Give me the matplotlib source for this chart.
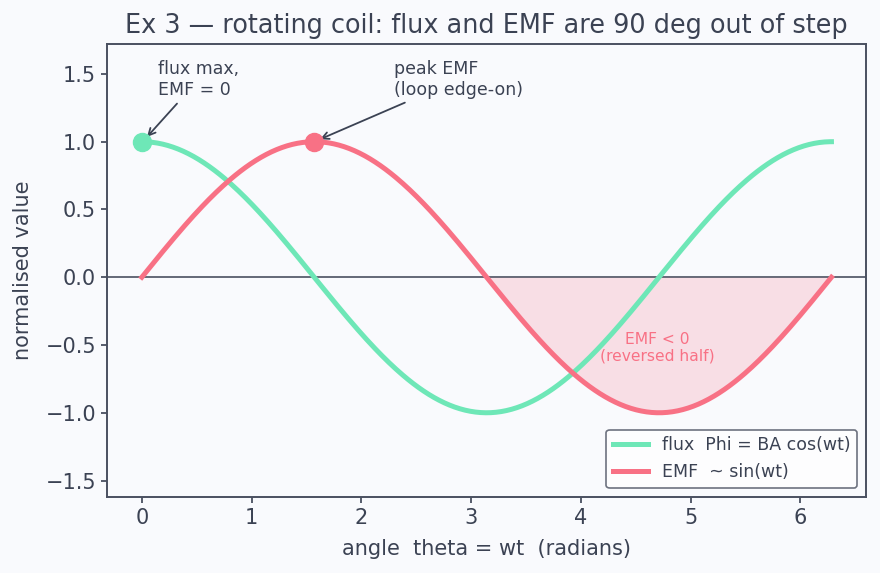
import numpy as np
import matplotlib.pyplot as plt

# angle samples over one full turn
theta = np.linspace(0, 2 * np.pi, 400)
flux = np.cos(theta)
emf = np.sin(theta)

flux_label = "flux  Phi = BA cos(wt)"
emf_label = "EMF  ~ sin(wt)"
title = "Ex 3 \u2014 rotating coil: flux and EMF are 90 deg out of step"

GREEN = "#6ee7b7"
RED = "#f87185"
INK = "#3b4253"
BG = "#f9fafd"

plt.rcParams["font.family"] = "DejaVu Sans"
fig, ax = plt.subplots(figsize=(8.8, 5.73), dpi=100)
fig.patch.set_facecolor(BG)
ax.set_facecolor(BG)

ax.axhline(0, color="#4a5060", lw=1.2, zorder=1)
neg = theta >= np.pi
ax.fill_between(theta[neg], emf[neg], 0, color=RED, alpha=0.2, lw=0, zorder=1)
ax.plot(theta, flux, color=GREEN, lw=3.6, label=flux_label, zorder=3)
ax.plot(theta, emf, color=RED, lw=3.6, label=emf_label, zorder=3)
ax.plot([0], [1], "o", color=GREEN, ms=13, zorder=4)
ax.plot([np.pi / 2], [1], "o", color=RED, ms=13, zorder=4)

ax.annotate("flux max,\nEMF = 0", xy=(0.03, 1.02), xytext=(0.15, 1.46),
            fontsize=12.5, color=INK, va="center",
            arrowprops=dict(arrowstyle="->", color=INK, lw=1.3))
ax.annotate("peak EMF\n(loop edge-on)", xy=(np.pi / 2 + 0.03, 1.01), xytext=(2.3, 1.46),
            fontsize=12.5, color=INK, va="center",
            arrowprops=dict(arrowstyle="->", color=INK, lw=1.3))
ax.text(4.7, -0.52, "EMF < 0\n(reversed half)", color=RED, fontsize=11.2,
        ha="center", va="center")

ax.set_ylim(-1.62, 1.72)
ax.set_title(title, fontsize=18.4, color=INK, pad=8)
ax.set_xlabel("angle  theta = wt  (radians)", fontsize=15, color=INK, labelpad=8)
ax.set_ylabel("normalised value", fontsize=15, color=INK, labelpad=9)
ax.tick_params(colors=INK, labelsize=15, length=4.5, width=1.2)
for s in ax.spines.values():
    s.set_color("#4a5060")
    s.set_linewidth(1.4)

leg = ax.legend(loc="lower right", fontsize=12.5, frameon=True, fancybox=True)
leg.get_frame().set_edgecolor("#4a5060")
leg.get_frame().set_linewidth(1.2)
leg.get_frame().set_facecolor("white")
for t in leg.get_texts():
    t.set_color(INK)

fig.subplots_adjust(left=0.122, right=0.984, top=0.923, bottom=0.133)
fig.savefig("out.png", dpi=100, facecolor=BG)
